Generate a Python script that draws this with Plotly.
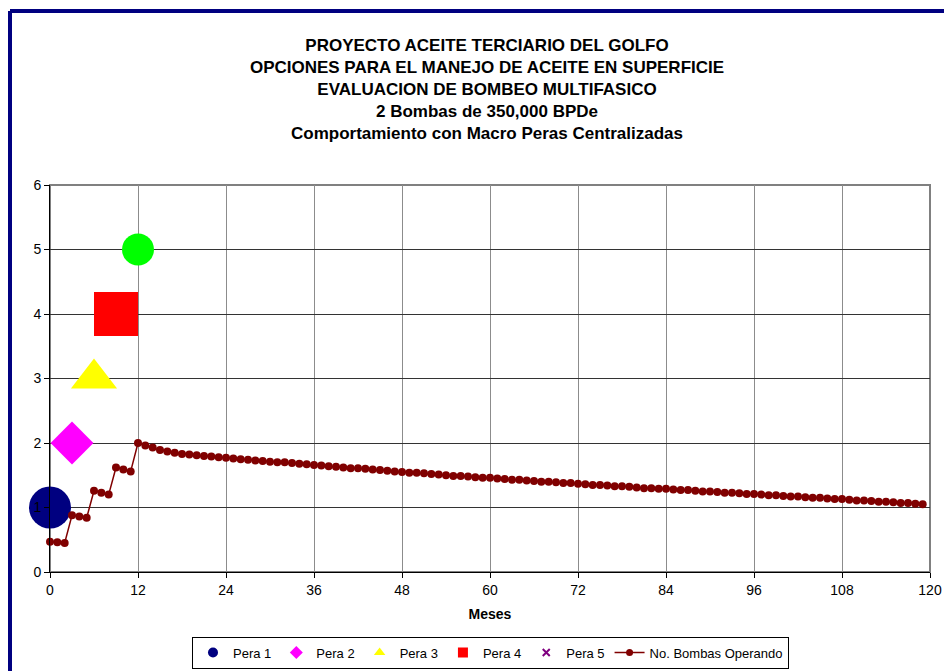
import plotly.graph_objects as go

# ---- data ----
title_lines = [
    "PROYECTO ACEITE TERCIARIO DEL GOLFO",
    "OPCIONES PARA EL MANEJO DE ACEITE EN SUPERFICIE",
    "EVALUACION DE BOMBEO MULTIFASICO",
    "2 Bombas de 350,000 BPDe",
    "Comportamiento con Macro Peras Centralizadas",
]
x_title = "Meses"
x_ticks = [0, 12, 24, 36, 48, 60, 72, 84, 96, 108, 120]
y_ticks = [0, 1, 2, 3, 4, 5, 6]

pera_names = ["Pera 1", "Pera 2", "Pera 3", "Pera 4", "Pera 5"]
pera_x = [0, 3, 6, 9, 12]
pera_y = [1, 2, 3, 4, 5]

bombas_name = "No. Bombas Operando"
meses = list(range(0, 120))
bombas = [
    0.47, 0.46, 0.45, 0.88, 0.86, 0.84, 1.26, 1.23, 1.20, 1.62, 1.59, 1.56,
    2.00, 1.96, 1.93, 1.89, 1.87, 1.85, 1.83, 1.82, 1.81, 1.80, 1.79, 1.78, 1.77,
    1.76, 1.75, 1.74, 1.73, 1.72, 1.71, 1.70, 1.70, 1.69, 1.68, 1.67, 1.66,
    1.65, 1.64, 1.63, 1.62, 1.61, 1.61, 1.60, 1.59, 1.58, 1.57, 1.56, 1.55,
    1.54, 1.54, 1.53, 1.52, 1.51, 1.50, 1.49, 1.49, 1.48, 1.47, 1.46, 1.46,
    1.45, 1.44, 1.43, 1.43, 1.42, 1.41, 1.40, 1.40, 1.39, 1.38, 1.38, 1.37,
    1.36, 1.35, 1.35, 1.34, 1.33, 1.33, 1.32, 1.31, 1.30, 1.30, 1.29, 1.29,
    1.28, 1.27, 1.27, 1.26, 1.25, 1.25, 1.24, 1.23, 1.23, 1.22, 1.21, 1.21,
    1.20, 1.19, 1.19, 1.18, 1.17, 1.17, 1.16, 1.15, 1.15, 1.14, 1.13, 1.13,
    1.12, 1.11, 1.11, 1.10, 1.09, 1.09, 1.08, 1.07, 1.07, 1.06, 1.05,
]

# ---- styles ----
pera_symbols = ["circle", "diamond", "triangle-up", "square", "circle"]
pera_colors = ["#000080", "#FF00FF", "#FFFF00", "#FF0000", "#00FF00"]
pera_sizes = [42, 33, 40, 44, 32]
legend_symbols = ["circle", "diamond", "triangle-up", "square", "x-thin-open"]
legend_colors = ["#000080", "#FF00FF", "#FFFF00", "#FF0000", "#800080"]
line_color = "#800000"
FONT = "Liberation Sans, Arial, sans-serif"

# page body has an 8px margin -> figure is 944x663, shifted by 8px
W, H = 944, 663
OFF = 8

fig = go.Figure()

for i in range(len(pera_names)):
    fig.add_trace(go.Scatter(
        x=[pera_x[i]], y=[pera_y[i]], mode="markers", showlegend=False,
        marker=dict(symbol=pera_symbols[i], color=pera_colors[i], size=pera_sizes[i],
                    line=dict(width=0)),
        cliponaxis=False, hoverinfo="skip"))

fig.add_trace(go.Scatter(
    x=meses, y=bombas, mode="lines+markers", showlegend=False,
    line=dict(color=line_color, width=1.5),
    marker=dict(symbol="circle", color=line_color, size=8),
    cliponaxis=False))

for i in range(len(pera_names)):
    mk = dict(symbol=legend_symbols[i], color=legend_colors[i], size=10)
    if legend_symbols[i].startswith("x"):
        mk["line"] = dict(color=legend_colors[i], width=2)
        mk["size"] = 7
    fig.add_trace(go.Scatter(x=[None], y=[None], mode="markers", name=pera_names[i],
                             marker=mk))
fig.add_trace(go.Scatter(x=[None], y=[None], mode="lines+markers", name=bombas_name,
                         line=dict(color=line_color, width=1.5),
                         marker=dict(symbol="circle", color=line_color, size=7)))

# plot-area border (top/right grey)
fig.add_shape(type="rect", xref="paper", yref="paper", x0=0, y0=0, x1=1, y1=1,
              line=dict(color="#808080", width=2), layer="below")
# navy outer frame (cropped chart border)
fx = (10 - 50) / 880
fy = (572 - 11) / 387
fig.add_shape(type="line", xref="paper", yref="paper", x0=fx, x1=fx, y0=-0.5, y1=fy,
              line=dict(color="#000080", width=4))
fig.add_shape(type="line", xref="paper", yref="paper", x0=fx, x1=1.2, y0=fy, y1=fy,
              line=dict(color="#000080", width=4))

fig.update_layout(
    width=W, height=H,
    margin=dict(l=50 - OFF, r=22, t=185 - OFF, b=99, autoexpand=False),
    paper_bgcolor="white", plot_bgcolor="white",
    font=dict(family=FONT, color="black", size=12),
    title=dict(text="<br>".join("<b>%s</b>" % t for t in title_lines),
               x=(487 - OFF) / W, xref="container", xanchor="center",
               y=1 - 43 / H, yref="container", yanchor="top",
               font=dict(family=FONT, size=17, color="black")),
    xaxis=dict(range=[0, 120], tickvals=x_ticks, ticktext=[str(t) for t in x_ticks],
               showgrid=True, gridcolor="#8c8c8c", gridwidth=1,
               showline=True, linecolor="black", linewidth=1,
               ticks="outside", ticklen=5, tickcolor="black",
               tickfont=dict(size=14), zeroline=False, automargin=False,
               title=dict(text="<b>%s</b>" % x_title, font=dict(size=14), standoff=12)),
    yaxis=dict(range=[0, 6], tickvals=y_ticks, ticktext=[str(t) for t in y_ticks],
               showgrid=True, gridcolor="#333333", gridwidth=1,
               showline=True, linecolor="black", linewidth=1,
               ticks="outside", ticklen=5, tickcolor="black",
               tickfont=dict(size=14), zeroline=False, automargin=False),
    legend=dict(orientation="h", xref="container", yref="container",
                x=(490.5 - OFF) / W, xanchor="center",
                y=1 - (652.5 - OFF) / H, yanchor="middle",
                bgcolor="white", bordercolor="black", borderwidth=1,
                font=dict(family=FONT, size=13, color="black"),
                itemwidth=30, tracegroupgap=0),
)

fig.write_html("out.html")
